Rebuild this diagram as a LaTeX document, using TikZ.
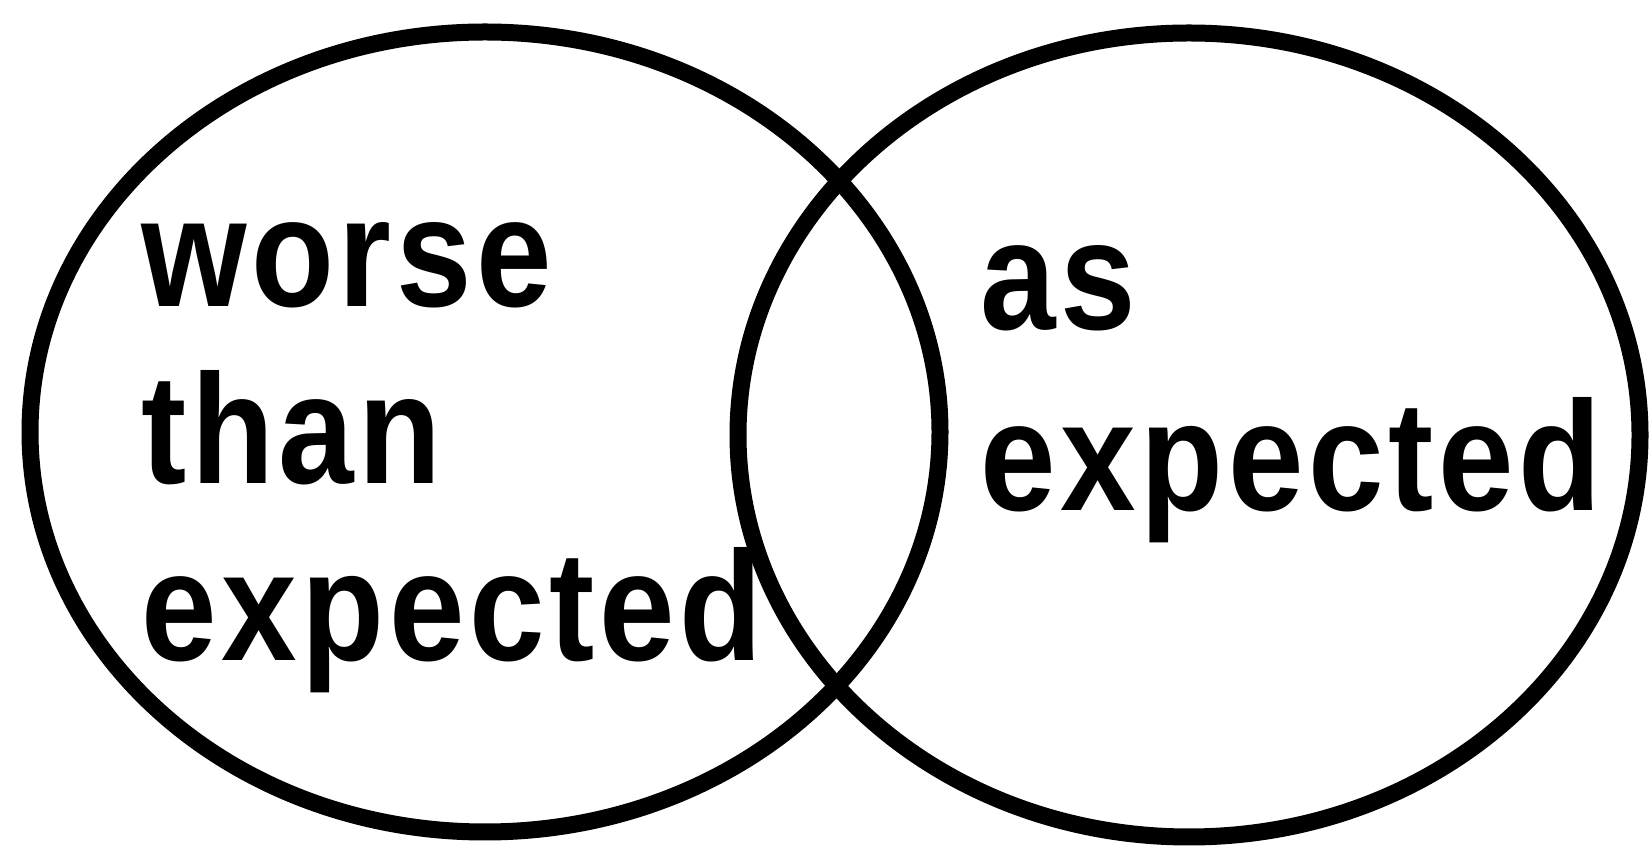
\documentclass[tikz,border=0pt]{standalone}
\usepackage{fontspec}
\newfontfamily\labfont[FakeStretch=0.87,LetterSpace=3]{Liberation Sans}
\begin{document}
\begin{tikzpicture}[x=1pt,y=1pt,
  ring/.style={draw=black, line width=17pt},
  lab/.style={font=\labfont\bfseries\fontsize{156}{177}\selectfont, align=left, inner sep=0pt, anchor=base west}]
\useasboundingbox (0,0) rectangle (1651,853);
\draw[ring] (485,421) ellipse [x radius=455, y radius=400];
\draw[ring] (1189,418) ellipse [x radius=451, y radius=402];
\node[lab] (worse) at (141,192) {worse\\than\\expected};
\node[lab, font=\labfont\bfseries\fontsize{156}{181}\selectfont] (as) at (980,342) {as\\expected};
\end{tikzpicture}
\end{document}
